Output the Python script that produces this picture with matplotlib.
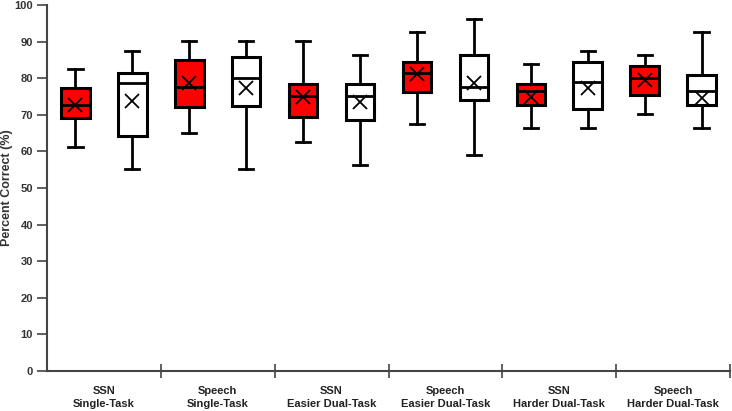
import matplotlib
matplotlib.use("Agg")
import matplotlib.pyplot as plt
import numpy as np

plt.rcParams['font.family'] = ['Liberation Sans', 'DejaVu Sans']

categories = ["SSN\nSingle-Task", "Speech\nSingle-Task", "SSN\nEasier Dual-Task",
              "Speech\nEasier Dual-Task", "SSN\nHarder Dual-Task", "Speech\nHarder Dual-Task"]

# red (first) series per group: whislo, q1, med, q3, whishi, mean
red_low  = [61.3, 65.1, 62.5, 67.5, 66.4, 70.1]
red_q1   = [69.0, 72.2, 69.5, 76.3, 72.6, 75.4]
red_med  = [72.6, 77.7, 75.1, 81.4, 76.6, 80.1]
red_q3   = [77.2, 85.0, 78.5, 84.5, 78.4, 83.4]
red_high = [82.5, 90.1, 90.1, 92.5, 83.8, 86.3]
red_mean = [72.8, 78.6, 74.9, 81.1, 74.9, 79.5]

# white (second) series per group
wht_low  = [55.1, 55.1, 56.3, 58.9, 66.4, 66.4]
wht_q1   = [64.2, 72.5, 68.5, 74.0, 71.5, 72.8]
wht_med  = [78.8, 80.1, 75.1, 77.6, 78.9, 76.6]
wht_q3   = [81.4, 85.7, 78.5, 86.3, 84.5, 81.0]
wht_high = [87.5, 90.1, 86.3, 96.3, 87.5, 92.5]
wht_mean = [73.8, 77.4, 73.6, 78.8, 77.4, 74.5]

yticks = list(range(0, 101, 10))

fig = plt.figure(figsize=(7.32, 4.11), dpi=100)
ax = fig.add_axes([47/732, 1-371/411, 683/732, 366/411])

def stats(lo, q1, med, q3, hi, mean):
    return [dict(whislo=a, q1=b, med=c, q3=d, whishi=e, mean=f, fliers=[])
            for a, b, c, d, e, f in zip(lo, q1, med, q3, hi, mean)]

n = len(categories)
common = dict(widths=0.25, showmeans=True, patch_artist=True, showfliers=False,
              medianprops=dict(color='black', linewidth=2),
              whiskerprops=dict(color='black', linewidth=2),
              capprops=dict(color='black', linewidth=2),
              meanprops=dict(marker='x', markeredgecolor='black', markersize=10, markeredgewidth=1.3),
              manage_ticks=False)
common_box = dict(linewidth=2.2, edgecolor='black')

ax.bxp(stats(red_low, red_q1, red_med, red_q3, red_high, red_mean),
       positions=np.arange(n) + 0.25, boxprops=dict(facecolor='#ff0000', **common_box),
       **common)
ax.bxp(stats(wht_low, wht_q1, wht_med, wht_q3, wht_high, wht_mean),
       positions=np.arange(n) + 0.75, boxprops=dict(facecolor='white', **common_box),
       **common)

ax.set_xlim(0, n)
ax.set_ylim(0, 100)
ax.set_yticks(yticks)
ax.set_yticklabels([str(t) for t in yticks], fontsize=8, fontweight='bold', color='#333333')

ax.set_xticks(np.arange(n) + 0.5)
ax.set_xticklabels(categories, fontsize=8, fontweight='bold', color='#222222', linespacing=1.35)
ax.tick_params(axis='x', which='major', length=0, pad=11)
ax.set_xticks(np.arange(1, n + 1), minor=True)
ax.tick_params(axis='x', which='minor', direction='inout', length=10, width=1.2, color='#444444')
ax.tick_params(axis='y', which='major', direction='out', length=7, width=1.2, color='#444444', pad=3)

for s in ['top', 'right']:
    ax.spines[s].set_visible(False)
for s in ['left', 'bottom']:
    ax.spines[s].set_color('#444444')
    ax.spines[s].set_linewidth(1.5)

ax.set_ylabel("Percent Correct (%)", fontsize=9, fontweight='bold', color='#333333', labelpad=1)

fig.savefig("out.png", dpi=100)
